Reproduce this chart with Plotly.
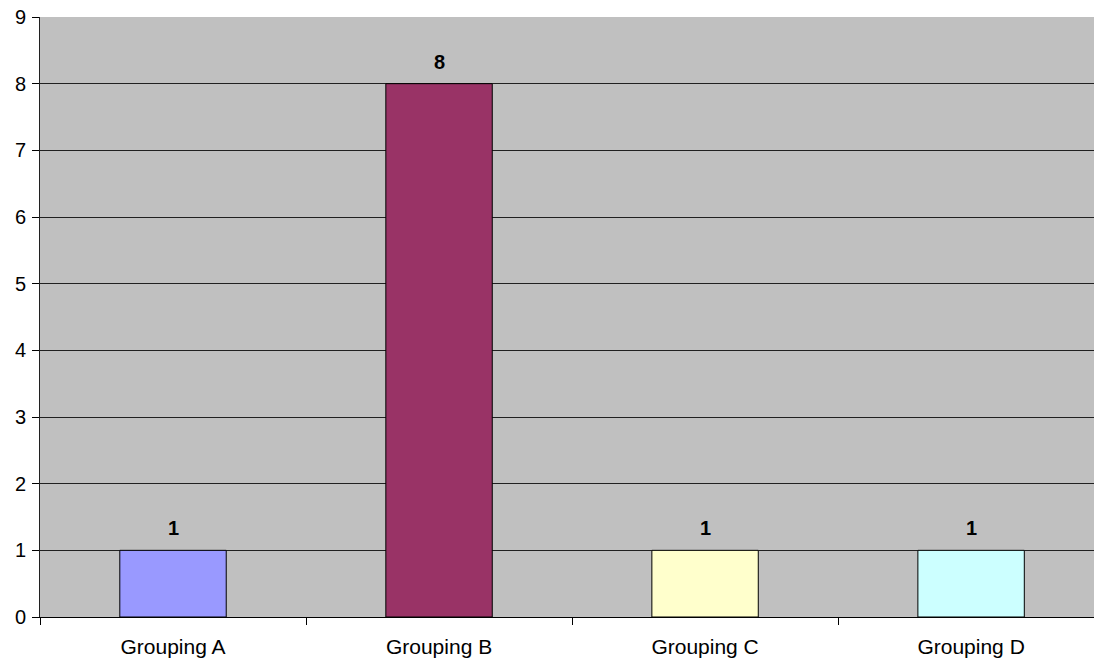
import plotly.graph_objects as go

categories = ["Grouping A", "Grouping B", "Grouping C", "Grouping D"]
values = [1, 8, 1, 1]
colors = ["#9999FF", "#993366", "#FFFFCC", "#CCFFFF"]
y_ticks = [0, 1, 2, 3, 4, 5, 6, 7, 8, 9]

FONT = "Liberation Sans, Arial, sans-serif"

fig = go.Figure()
fig.add_trace(go.Bar(
    x=categories, y=values,
    marker=dict(color=colors, line=dict(color="#000000", width=1)),
    width=0.4,
    hoverinfo="x+y",
))

for c, v in zip(categories, values):
    fig.add_annotation(
        x=c, y=v, text=f"<b>{v}</b>", showarrow=False,
        yanchor="bottom", yshift=9,
        font=dict(family=FONT, size=20, color="#000000"),
    )

fig.update_layout(
    width=1094, height=666,
    margin=dict(l=40, r=0, t=17, b=49, pad=0),
    paper_bgcolor="white",
    plot_bgcolor="#C0C0C0",
    showlegend=False,
    font=dict(family=FONT, size=21, color="#000000"),
    xaxis=dict(
        type="category",
        range=[-0.5, 3.462],
        showgrid=False,
        showline=True, linecolor="#000000", linewidth=1,
        ticks="outside", tickson="boundaries", ticklen=7, tickcolor="#000000",
        tickfont=dict(family=FONT, size=21),
        ticklabelstandoff=11,
    ),
    yaxis=dict(
        range=[0, 9],
        tickvals=y_ticks,
        showgrid=True, gridcolor="#202020", gridwidth=1,
        showline=True, linecolor="#202020", linewidth=1,
        ticks="outside", ticklen=7, tickcolor="#000000",
        tickfont=dict(family=FONT, size=20),
        ticklabelstandoff=2,
        zeroline=False,
    ),
)

fig.write_html(
    "out.html",
    config={"displayModeBar": False},
    post_script="document.body.style.margin='0';document.body.style.overflow='hidden';",
)
